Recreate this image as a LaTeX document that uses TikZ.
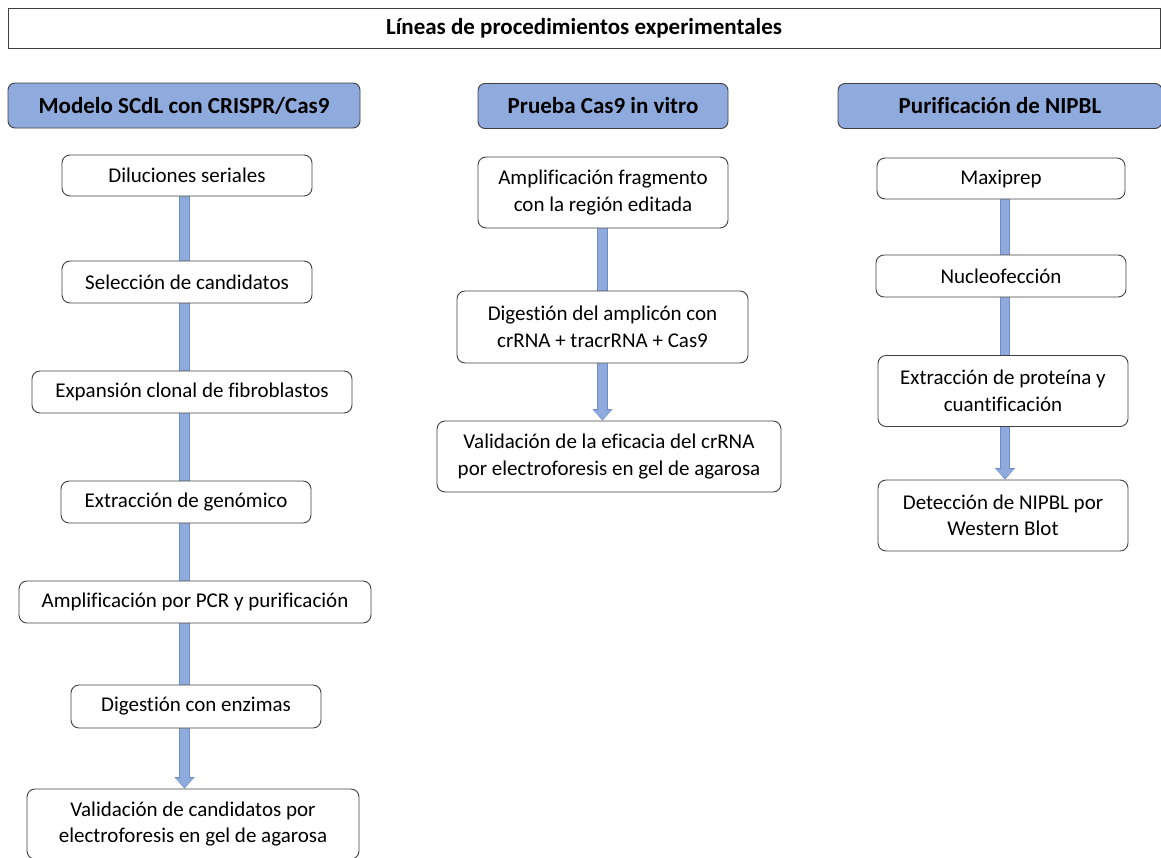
\documentclass[tikz,border=0pt]{standalone}
\usepackage{fontspec}
\setmainfont{Carlito}[Ligatures=NoCommon]
\usepackage{tikz}
\usetikzlibrary{arrows.meta, backgrounds}
\definecolor{hdrblue}{HTML}{8FAADC}
\definecolor{baredge}{HTML}{6F8DC6}
\definecolor{boxline}{HTML}{404040}
\tikzset{
  ttl/.style={draw=boxline, line width=0.9pt, minimum width=1152pt, minimum height=40pt,
              font=\fontsize{23}{27}\selectfont\bfseries},
  hdr/.style={draw=boxline, fill=hdrblue, rounded corners=7pt, line width=0.9pt,
              minimum height=45pt, font=\fontsize{23}{27}\selectfont\bfseries},
  stepbox/.style={draw=boxline, fill=white, rounded corners=8pt, line width=0.9pt,
              align=center, inner sep=0pt, font=\fontsize{21}{26.5}\selectfont},
  baredge/.style={line width=10.5pt, draw=baredge, -{Triangle[width=19.5pt, length=11.5pt]}},
  barfill/.style={line width=8.5pt, draw=hdrblue, -{Triangle[width=16.5pt, length=9pt]},
              shorten >=1.3pt}
}

\begin{document}
\begin{tikzpicture}[x=1pt, y=-1pt]
  \useasboundingbox (0,0) rectangle (1161,857);
  \node[ttl] (title) at (584,28) {Líneas de procedimientos experimentales};

  % headers
  \node[hdr, minimum width=352pt] (h1) at (184,105.5) {Modelo SCdL con CRISPR/Cas9};
  \node[hdr, minimum width=250pt] (h2) at (603,106) {Prueba Cas9 in vitro};
  \node[hdr, minimum width=324pt] (h3) at (1000,106) {Purificación de NIPBL};

  % column 1
  \node[stepbox, minimum width=250pt, minimum height=41pt] (d1) at (187,175.5) {Diluciones seriales};
  \node[stepbox, minimum width=250pt, minimum height=42pt] (d2) at (187,282) {Selección de candidatos};
  \node[stepbox, minimum width=320pt, minimum height=42pt] (d3) at (192,392) {Expansión clonal de fibroblastos};
  \node[stepbox, minimum width=250pt, minimum height=42pt] (d4) at (186,502) {Extracción de genómico};
  \node[stepbox, minimum width=352pt, minimum height=42pt] (d5) at (195,602) {Amplificación por PCR y purificación};
  \node[stepbox, minimum width=250pt, minimum height=43pt] (d6) at (196,706.5) {Digestión con enzimas};
  \node[stepbox, minimum width=332pt, minimum height=70pt] (d7) at (193,824) {Validación de candidatos por\\electroforesis en gel de agarosa};

  % column 2
  \node[stepbox, minimum width=250pt, minimum height=71pt] (e1) at (603,192.5) {Amplificación fragmento\\con la región editada};
  \node[stepbox, minimum width=291pt, minimum height=72pt] (e2) at (602.5,327) {Digestión del amplicón con\\crRNA + tracrRNA + Cas9};
  \node[stepbox, minimum width=344pt, minimum height=71pt] (e3) at (609,456.5) {Validación de la eficacia del crRNA\\por electroforesis en gel de agarosa};

  % column 3
  \node[stepbox, minimum width=248pt, minimum height=41pt] (f1) at (1001,178.5) {Maxiprep};
  \node[stepbox, minimum width=250pt, minimum height=42pt] (f2) at (1001,276) {Nucleofección};
  \node[stepbox, minimum width=250pt, minimum height=71pt] (f3) at (1003,391) {Extracción de proteína y\\cuantificación};
  \node[stepbox, minimum width=250pt, minimum height=71pt] (f4) at (1003,515.5) {Detección de NIPBL por\\Western Blot};

  \coordinate (c1) at (184.5,0);
  \coordinate (c2) at (602.5,0);
  \coordinate (c3) at (1005,0);

  \begin{scope}[on background layer]
    \draw[baredge] (d1.south -| c1) -- (d7.north -| c1);
    \draw[barfill] (d1.south -| c1) -- (d7.north -| c1);
    \draw[baredge] (e1.south -| c2) -- (e3.north -| c2);
    \draw[barfill] (e1.south -| c2) -- (e3.north -| c2);
    \draw[baredge] (f1.south -| c3) -- (f4.north -| c3);
    \draw[barfill] (f1.south -| c3) -- (f4.north -| c3);
  \end{scope}
\end{tikzpicture}
\end{document}
